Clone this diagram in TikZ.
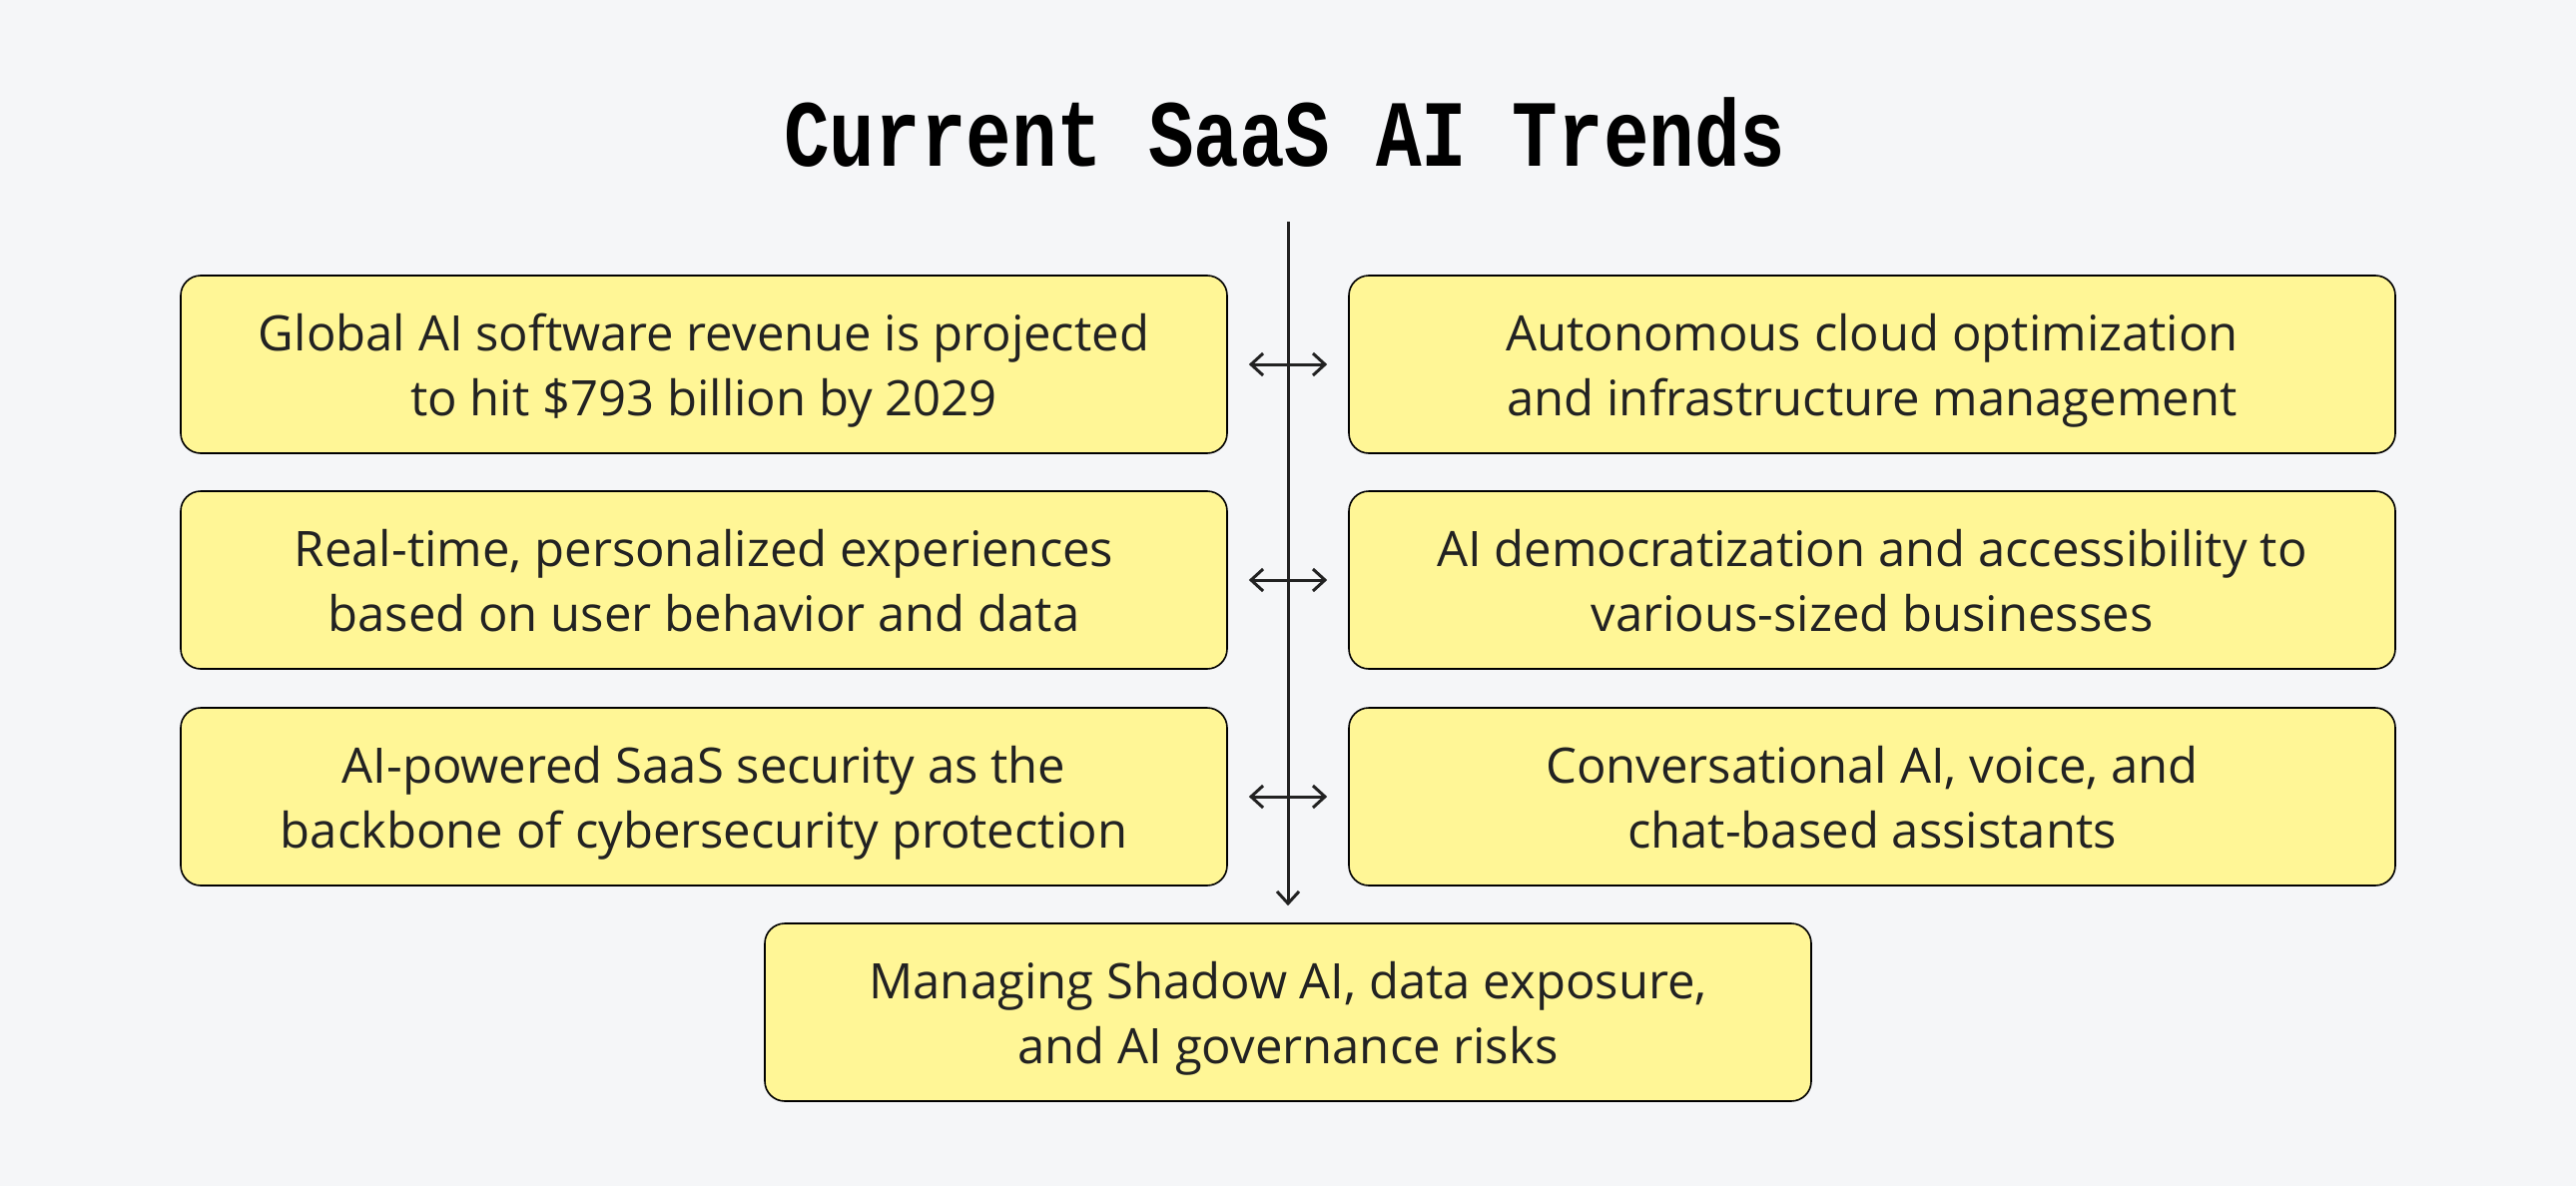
\documentclass[tikz,border=0pt]{standalone}
\usepackage{fontspec}
\setmainfont{Open Sans}
\newfontfamily\titlefont{Liberation Mono}[BoldFont={Liberation Mono Bold}]
\usetikzlibrary{arrows.meta}
\definecolor{bgc}{HTML}{F5F6F8}
\definecolor{boxc}{HTML}{FFF696}
\definecolor{txtc}{HTML}{222222}
\newcommand{\twoline}[2]{\rule{0pt}{54pt}#1\\#2\rule[-16pt]{0pt}{16pt}}
\tikzset{
  trend/.style={draw=black, line width=1.6pt, fill=boxc, rounded corners=20pt,
    minimum width=1048pt, minimum height=178pt, align=center, text=txtc,
    inner sep=0pt, font=\fontsize{49}{65}\selectfont},
  link/.style={line width=3pt, draw=txtc, {Straight Barb[length=12pt,width=22pt,line width=3pt]}-{Straight Barb[length=12pt,width=22pt,line width=3pt]}},
  spine/.style={line width=3pt, draw=txtc, -{Straight Barb[length=12pt,width=22pt,line width=3pt]}}
}
\begin{document}
\begin{tikzpicture}[x=1pt,y=1pt]
\fill[bgc] (0,0) rectangle (2580,-1188);
\useasboundingbox (0,0) rectangle (2580,-1188);
\node[anchor=base, text=black, font=\titlefont\bfseries\fontsize{76}{90}\selectfont] (title) at (1287,-166) {\scalebox{1}[1.25]{Current SaaS AI Trends}};
\coordinate (top) at (1290,-222);
\node[trend] (L1) at (705,-365) {\twoline{Global AI software revenue is projected}{to hit \$793 billion by 2029}};
\node[trend] (R1) at (1875,-365) {\twoline{Autonomous cloud optimization}{and infrastructure management}};
\node[trend] (L2) at (705,-581) {\twoline{Real-time, personalized experiences}{based on user behavior and data}};
\node[trend] (R2) at (1875,-581) {\twoline{AI democratization and accessibility to}{various-sized businesses}};
\node[trend] (L3) at (705,-798) {\twoline{AI-powered SaaS security as the}{backbone of cybersecurity protection}};
\node[trend] (R3) at (1875,-798) {\twoline{Conversational AI, voice, and}{chat-based assistants}};
\node[trend] (B) at (1290,-1014) {\twoline{Managing Shadow AI, data exposure,}{and AI governance risks}};
\draw[spine, shorten >=17pt] (top) -- (B.north);
\draw[link, shorten <=21pt, shorten >=21pt] (L1.east) -- (R1.west);
\draw[link, shorten <=21pt, shorten >=21pt] (L2.east) -- (R2.west);
\draw[link, shorten <=21pt, shorten >=21pt] (L3.east) -- (R3.west);
\end{tikzpicture}
\end{document}
